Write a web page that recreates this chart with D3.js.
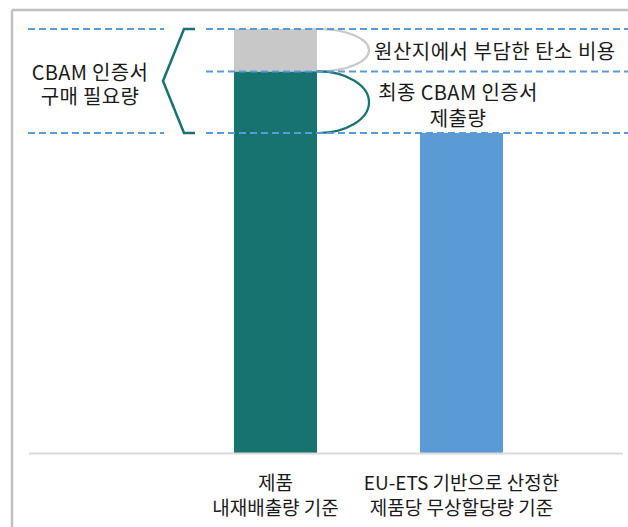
<!DOCTYPE html>
<html><head><meta charset="utf-8">
<script src="https://cdn.jsdelivr.net/npm/d3@7/dist/d3.min.js"></script>
<style>
html,body{margin:0;padding:0;background:#fff;}
svg{display:block;font-family:"Noto Sans CJK KR","Noto Sans",sans-serif;}
</style></head>
<body>
<svg id="chart" width="628" height="527"></svg>
<script>
// ---- data ----
const categories = ["제품 내재배출량 기준", "EU-ETS 기반 무상할당량 기준"];
const categoryLabels = [["제품", "내재배출량 기준"], ["EU-ETS 기반으로 산정한", "제품당 무상할당량 기준"]];
const embeddedEmissions = 100;     // total embedded emissions (top of gray)
const finalCertificates = 90;      // portion after deducting carbon price paid at origin (teal)
const freeAllocation = 75.5;       // free allocation benchmark (blue)
const guideValues = [100, 90, 75.5];
const annotationTexts = {
  need: ["CBAM 인증서", "구매 필요량"],
  origin: ["원산지에서 부담한 탄소 비용"],
  final: ["최종 CBAM 인증서", "제출량"]
};

const colors = {teal: "#16736f", gray: "#c8c8c8", blue: "#5b9bd5", dash: "#5b9bd5", frame: "#c0c0c0", base: "#d9d9d9"};

const svg = d3.select("#chart");
const y = d3.scaleLinear().domain([0, 100]).range([453.5, 29]);
const x = d3.scalePoint().domain(categories).range([275.5, 461.5]);
const barW = 83;

// frame
svg.append("line").attr("x1", 12).attr("x2", 628).attr("y1", 10).attr("y2", 10)
  .attr("stroke", colors.frame).attr("stroke-width", 2.5);
svg.append("line").attr("x1", 12).attr("x2", 12).attr("y1", 10).attr("y2", 527)
  .attr("stroke", colors.frame).attr("stroke-width", 2.5);

// ellipses (behind bars)
const barRight = x(categories[0]) + barW / 2;
svg.append("ellipse")
  .attr("cx", barRight + 1).attr("cy", (y(embeddedEmissions) + y(finalCertificates)) / 2)
  .attr("rx", 51).attr("ry", (y(finalCertificates) - y(embeddedEmissions)) / 2)
  .attr("fill", "none").attr("stroke", colors.gray).attr("stroke-width", 2.2);
svg.append("ellipse")
  .attr("cx", barRight + 1).attr("cy", (y(finalCertificates) + y(freeAllocation)) / 2)
  .attr("rx", 51).attr("ry", (y(freeAllocation) - y(finalCertificates)) / 2)
  .attr("fill", "none").attr("stroke", colors.teal).attr("stroke-width", 2.2);

// bars
const stacks = [
  {cat: categories[0], y0: 0, y1: finalCertificates, color: colors.teal},
  {cat: categories[0], y0: finalCertificates, y1: embeddedEmissions, color: colors.gray},
  {cat: categories[1], y0: 0, y1: freeAllocation, color: colors.blue}
];
svg.selectAll("rect.bar").data(stacks).join("rect").attr("class", "bar")
  .attr("x", d => x(d.cat) - barW / 2).attr("width", barW)
  .attr("y", d => y(d.y1)).attr("height", d => y(d.y0) - y(d.y1))
  .attr("fill", d => d.color);

// baseline
svg.append("line").attr("x1", 29).attr("x2", 623).attr("y1", y(0)).attr("y2", y(0))
  .attr("stroke", colors.base).attr("stroke-width", 2.2);

// dashed guides
guideValues.forEach(v => {
  svg.append("line").attr("x1", 206).attr("x2", 628).attr("y1", y(v)).attr("y2", y(v))
    .attr("stroke", colors.dash).attr("stroke-width", 2).attr("stroke-dasharray", "7,4");
});
[embeddedEmissions, freeAllocation].forEach(v => {
  svg.append("line").attr("x1", 28).attr("x2", 164).attr("y1", y(v)).attr("y2", y(v))
    .attr("stroke", colors.dash).attr("stroke-width", 2).attr("stroke-dasharray", "7,4");
});

// bracket
const bt = y(embeddedEmissions), bb = y(freeAllocation);
svg.append("path")
  .attr("d", `M195,${bt} L184,${bt} L163,${(bt + bb) / 2} L184,${bb} L195,${bb}`)
  .attr("fill", "none").attr("stroke", colors.teal).attr("stroke-width", 2.5)
  .attr("stroke-linejoin", "miter");

// multi-line text as a single text element with tspans
function multiline(lines, cx, cy0, lh, anchor, size, ls) {
  const t = svg.append("text").attr("x", cx).attr("y", cy0)
    .attr("text-anchor", anchor).attr("dominant-baseline", "central")
    .attr("font-size", size).attr("letter-spacing", ls).attr("fill", "#1a1a1a");
  lines.forEach((s, i) => {
    t.append("tspan").attr("x", cx).attr("dy", i === 0 ? 0 : lh).text(s);
  });
}
multiline(annotationTexts.need, 90, 71, 24, "middle", 20, 0.3);
multiline(annotationTexts.origin, 374, (y(embeddedEmissions) + y(finalCertificates)) / 2, 0, "start", 20, 0.5);
multiline(annotationTexts.final, 458, 91, 26, "middle", 20, 0.4);

// category labels
categories.forEach((c, i) => {
  multiline(categoryLabels[i], x(c), 481, 25, "middle", 19, 0);
});
</script>
</body></html>
